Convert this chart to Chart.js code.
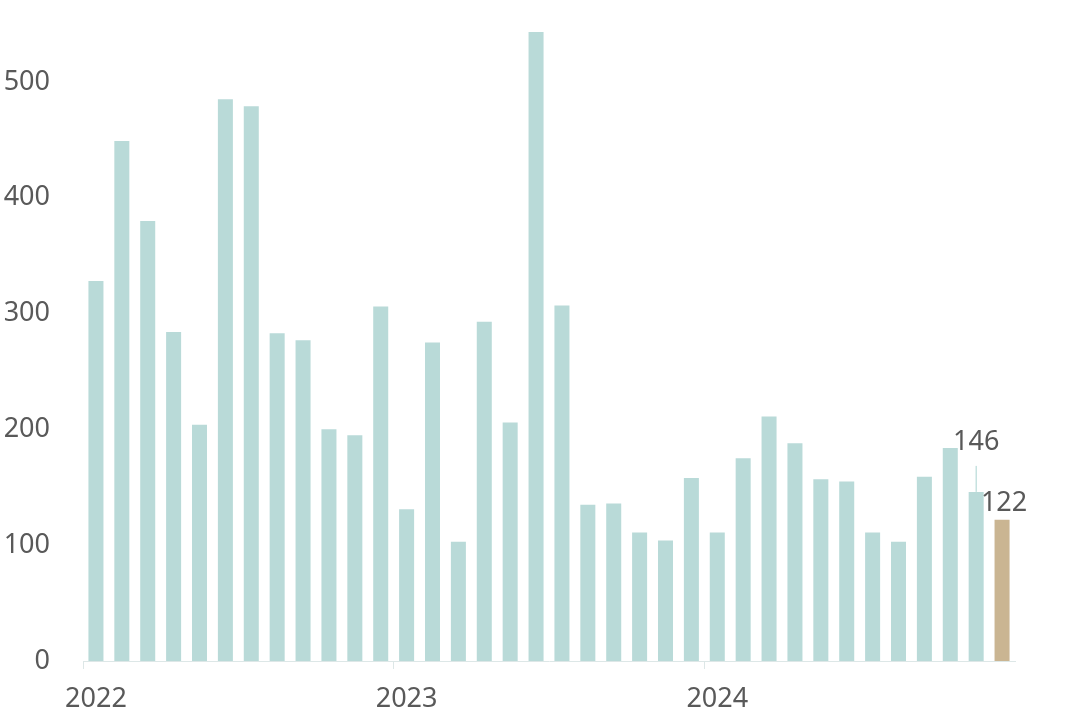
<!DOCTYPE html>
<html>
<head>
<meta charset="utf-8">
<script src="https://cdn.jsdelivr.net/npm/chart.js@4.4.1/dist/chart.umd.min.js"></script>
<style>
  html, body { margin: 0; padding: 0; background: #fff; }
  #box { width: 1077px; height: 718px; }
</style>
</head>
<body>
<div id="box"><canvas id="chart"></canvas></div>
<script>
// monthly values, Jan 2022 .. Dec 2024
const months = [];
for (const y of [2022, 2023, 2024]) for (let m = 1; m <= 12; m++) months.push(y + '-' + String(m).padStart(2, '0'));
const values = [
  328, 449, 380, 284, 204, 485, 479, 283, 277, 200, 195, 306,
  131, 275, 103, 293, 206, 543, 307, 135, 136, 111, 104, 158,
  111, 175, 211, 188, 157, 155, 111, 103, 159, 184, 146, 122
];
const yTicks = [0, 100, 200, 300, 400, 500];
const labelled = [34, 35]; // bars that carry a value label

const BAR = '#b9dad8', LAST = '#cab592', TEXT = '#595959';
const FONT = '"Noto Sans", "Open Sans", sans-serif';
const colors = values.map((v, i) => i === values.length - 1 ? LAST : BAR);

// value labels on the last two bars; first one sits higher with a leader line
const valueLabels = {
  id: 'valueLabels',
  afterDatasetsDraw(chart) {
    const ctx = chart.ctx;
    const meta = chart.getDatasetMeta(0);
    ctx.save();
    ctx.font = '27px ' + FONT;
    ctx.fillStyle = TEXT;
    ctx.textAlign = 'center';
    ctx.textBaseline = 'middle';
    labelled.forEach((i, k) => {
      const el = meta.data[i];
      if (k === 0) {
        ctx.strokeStyle = '#a9d3d1';
        ctx.lineWidth = 1;
        ctx.beginPath();
        ctx.moveTo(el.x, el.y - 26);
        ctx.lineTo(el.x, el.y);
        ctx.stroke();
        ctx.fillText(values[i], el.x, el.y - 50);
      } else {
        ctx.fillText(values[i], el.x + 2, el.y - 16);
      }
    });
    ctx.restore();
  }
};

new Chart(document.getElementById('chart'), {
  type: 'bar',
  data: {
    labels: months,
    datasets: [{ data: values, backgroundColor: colors, barPercentage: 0.58, categoryPercentage: 1 }]
  },
  options: {
    responsive: true, maintainAspectRatio: false, animation: false,
    layout: { padding: { top: 24, right: 62, bottom: 0, left: 0 } },
    plugins: { legend: { display: false }, tooltip: { enabled: false } },
    scales: {
      x: {
        afterFit: s => { s.height = 57; },
        grid: {
          offset: true, drawOnChartArea: false, drawTicks: true, tickLength: 8,
          color: c => (c.index % 12 === 0) ? '#dde7e7' : 'rgba(0,0,0,0)'
        },
        border: { display: true, color: '#dde7e7' },
        ticks: {
          autoSkip: false, maxRotation: 0, padding: 14,
          color: TEXT, font: { family: FONT, size: 27 },
          callback: (v, i) => i % 12 === 0 ? months[i].slice(0, 4) : ''
        }
      },
      y: {
        min: 0, max: 550,
        afterBuildTicks: s => { s.ticks = yTicks.map(v => ({ value: v })); },
        afterFit: s => { s.width = 83; s.paddingTop = 0; s.paddingBottom = 0; },
        grid: { display: false },
        border: { display: false },
        ticks: {
          padding: 25,
          color: TEXT, font: { family: FONT, size: 27 }
        }
      }
    }
  },
  plugins: [valueLabels]
});
</script>
</body>
</html>
